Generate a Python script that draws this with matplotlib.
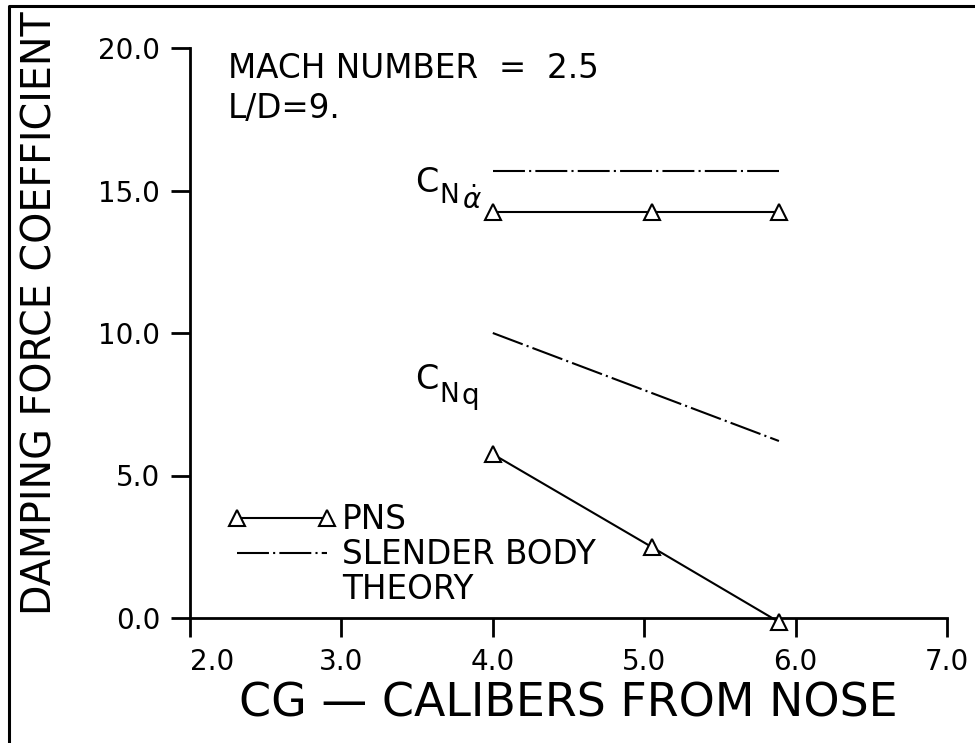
import matplotlib
matplotlib.use("Agg")
import matplotlib.pyplot as plt
from matplotlib.lines import Line2D
from matplotlib.legend_handler import HandlerLine2D

# ---------------- data ----------------
cg_pns = [4.0, 5.05, 5.89]
cna_dot_pns = [14.25, 14.25, 14.25]
cnq_pns = [5.75, 2.49, -0.14]

cg_sbt = [4.0, 5.89]
cna_dot_sbt = [15.68, 15.68]
cnq_sbt = [10.0, 6.21]

xticks = [2.0, 3.0, 4.0, 5.0, 6.0, 7.0]
yticks = [0.0, 5.0, 10.0, 15.0, 20.0]
xtick_labels = ["2.0", "3.0", "4.0", "5.0", "6.0", "7.0"]
ytick_labels = ["0.0", "5.0", "10.0", "15.0", "20.0"]

plt.rcParams["font.family"] = ["DejaVu Sans"]
plt.rcParams["mathtext.fontset"] = "dejavusans"
plt.rcParams["lines.scale_dashes"] = False

TICK_FS = 20
ANN_FS = 23.5
XLAB_FS = 33
YLAB_FS = 28.5

W, H = 975, 743
fig = plt.figure(figsize=(W / 100, H / 100), dpi=100)
ax = fig.add_axes([190 / W, 1 - 618 / H, 757 / W, 570 / H])

DASHDOT = (0, (23, 3, 1.5, 3))
LW = 1.5
MK = dict(marker="^", ms=12, mfc="white", mec="black", mew=1.5)

ax.plot(cg_pns, cna_dot_pns, color="black", lw=LW, clip_on=False, zorder=3, **MK)
ax.plot(cg_pns, cnq_pns, color="black", lw=LW, clip_on=False, zorder=3, **MK)
ax.plot(cg_sbt, cna_dot_sbt, color="black", lw=LW, linestyle=DASHDOT)
ax.plot(cg_sbt, cnq_sbt, color="black", lw=LW, linestyle=DASHDOT)

ax.set_xlim(2, 7)
ax.set_ylim(0, 20)
ax.set_xticks(xticks)
ax.set_xticklabels(xtick_labels)
ax.set_yticks(yticks)
ax.set_yticklabels(ytick_labels)
for sp in ["top", "right"]:
    ax.spines[sp].set_visible(False)
for sp in ["left", "bottom"]:
    ax.spines[sp].set_linewidth(2.0)
ax.tick_params(axis="both", direction="out", length=13.5, width=2.0,
               labelsize=TICK_FS, pad=8)
ax.get_xticklabels()[0].set_horizontalalignment("left")

ax.set_xlabel("CG — CALIBERS FROM NOSE", fontsize=XLAB_FS, labelpad=4)
fig.text(41 / W, 1 - 313 / H, "DAMPING FORCE COEFFICIENT", rotation=90,
         fontsize=YLAB_FS, ha="center", va="center")

ax.text((228 - 190) / 757, 1 - (78 - 48) / 570, "MACH NUMBER  =  2.5",
        transform=ax.transAxes, fontsize=ANN_FS, ha="left", va="baseline")
ax.text((228 - 190) / 757, 1 - (118 - 48) / 570, "L/D=9.",
        transform=ax.transAxes, fontsize=ANN_FS, ha="left", va="baseline")

# C_N alpha-dot label (offsets in pixels from the first PNS point)
p0 = (cg_pns[0], cna_dot_pns[0])
ax.annotate("C", p0, xytext=(-78, 20), textcoords="offset pixels",
            fontsize=24, ha="left", va="baseline")
ax.annotate("N", p0, xytext=(-53, 9), textcoords="offset pixels",
            fontsize=19, ha="left", va="baseline")
ax.annotate(r"$\dot{\alpha}$", p0, xytext=(-31, 3), textcoords="offset pixels",
            fontsize=20, ha="left", va="baseline")

# C_Nq label
q0 = (cg_pns[0], cnq_pns[0])
ax.annotate("C", q0, xytext=(-78, 65), textcoords="offset pixels",
            fontsize=24, ha="left", va="baseline")
ax.annotate("N", q0, xytext=(-53, 52), textcoords="offset pixels",
            fontsize=19, ha="left", va="baseline")
ax.annotate("q", q0, xytext=(-31, 50), textcoords="offset pixels",
            fontsize=20, ha="left", va="baseline")

h1 = Line2D([], [], color="black", lw=LW, **MK)
h2 = Line2D([], [], color="black", lw=LW, linestyle=DASHDOT)
h3 = Line2D([], [], color="none", lw=0)
em = ANN_FS * 100 / 72
leg = ax.legend([h1, h2, h3], ["PNS", "SLENDER BODY", "THEORY"],
                loc="upper left",
                bbox_to_anchor=((237 - 190) / 757, 1 - (503 - 48) / 570),
                frameon=False, fontsize=ANN_FS, numpoints=2,
                handlelength=90 / em, handletextpad=15 / em,
                borderpad=0, borderaxespad=0, labelspacing=0.06,
                handler_map={Line2D: HandlerLine2D(marker_pad=0)})

# figure border (top and left)
fig.add_artist(Line2D([9 / W, 9 / W, 1.0], [0.0, 1 - 6 / H, 1 - 6 / H],
                      transform=fig.transFigure, color="black", lw=2.2))

fig.savefig("out.png", dpi=100)
